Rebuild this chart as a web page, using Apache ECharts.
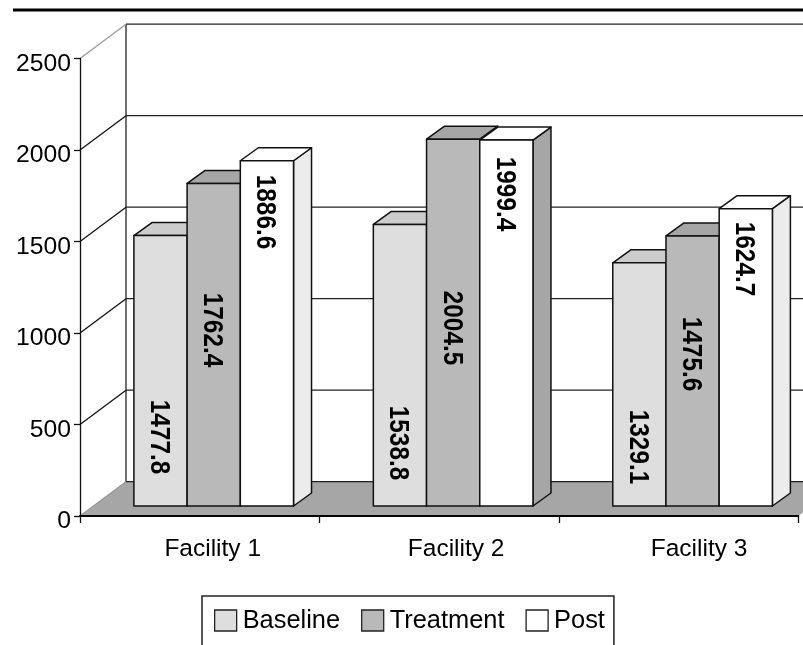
<!DOCTYPE html>
<html>
<head>
<meta charset="utf-8">
<style>html,body{margin:0;padding:0;background:#fff}#c{width:803px;height:645px}</style>
<script src="https://cdn.jsdelivr.net/npm/echarts@6/dist/echarts.min.js"></script>
</head>
<body>
<div id="c"></div>
<script>
const categories = ['Facility 1', 'Facility 2', 'Facility 3'];
const baseline = [1477.8, 1538.8, 1329.1];
const treatment = [1762.4, 2004.5, 1475.6];
const post = [1886.6, 1999.4, 1624.7];
const yTicks = [0, 500, 1000, 1500, 2000, 2500];

const layout = {
  wallDx: 46, wallDy: -34.3,
  barDx: 14, barDy: -10,
  depthDx: 18, depthDy: -13,
  // height of each rotated value label above the bar foot, per series then facility
  labelRise: [[69, 63, 59], [176, 178, 152], [294, 312, 247]],
  labelShift: -2
};
const ink = '#111';
const font = '"Liberation Sans", Arial, sans-serif';
const looks = [
  { face: '#dedede', top: '#cccccc', side: ['#cccccc', '#cccccc', '#cccccc'] },
  { face: '#b9b9b9', top: '#a6a6a6', side: ['#a6a6a6', '#a6a6a6', '#a6a6a6'] },
  { face: '#ffffff', top: '#ffffff', side: ['#ececec', '#a6a6a6', '#ececec'] }
];

function wallItem(params, api) {
  const cs = params.coordSys;
  const tick = api.value(1);
  const y = api.coord([0, tick])[1];
  const x0 = cs.x, x1 = cs.x + layout.wallDx, x2 = cs.x + cs.width + layout.wallDx;
  const yb = y + layout.wallDy;
  const children = [];
  if (tick === 0) {
    children.push({ type: 'polygon', shape: { points: [[x0, y], [x1, yb], [x2, yb], [x2 - layout.wallDx, y]] },
      style: { fill: '#a6a6a6', stroke: null } });
    const yTop = api.coord([0, yTicks[yTicks.length - 1]])[1] + layout.wallDy;
    children.push({ type: 'line', shape: { x1: x1, y1: yTop, x2: x1, y2: yb }, style: { stroke: '#222', lineWidth: 1.3 } });
  }
  const edge = tick === 0 || tick === yTicks[yTicks.length - 1];
  children.push({ type: 'line', shape: { x1: x0, y1: y, x2: x1, y2: yb }, style: { stroke: edge ? '#999' : ink, lineWidth: 1.3 } });
  children.push({ type: 'line', shape: { x1: x1, y1: yb, x2: x2, y2: yb }, style: { stroke: '#222', lineWidth: 1.3 } });
  return { type: 'group', children: children };
}

function barRenderer(seriesIndex) {
  return function (params, api) {
    const cat = api.value(0), val = api.value(1);
    const p = api.coord([cat, val]);
    const foot = api.coord([cat, 0]);
    const w = api.size([1, 0])[0] / 4.5;
    const l = p[0] - 1.5 * w + seriesIndex * w + layout.barDx;
    const r = l + w;
    const t = p[1] + layout.barDy, b = foot[1] + layout.barDy;
    const dx = layout.depthDx, dy = layout.depthDy;
    const look = looks[seriesIndex];
    const line = { stroke: ink, lineWidth: 1.5, lineJoin: 'round' };
    return {
      type: 'group',
      children: [
        { type: 'polygon', shape: { points: [[r, t], [r + dx, t + dy], [r + dx, b + dy], [r, b]] },
          style: Object.assign({ fill: look.side[cat] }, line) },
        { type: 'polygon', shape: { points: [[l, t], [l + dx, t + dy], [r + dx, t + dy], [r, t]] },
          style: Object.assign({ fill: look.top }, line) },
        { type: 'rect', shape: { x: l, y: t, width: w, height: b - t },
          style: Object.assign({ fill: look.face }, line) },
        { type: 'text', x: l + w / 2 + layout.labelShift, y: b - layout.labelRise[seriesIndex][cat],
          rotation: -Math.PI / 2, scaleY: 1.12,
          style: { text: val.toFixed(1), x: 0, y: 0, textAlign: 'center', textVerticalAlign: 'middle',
            fill: '#000', font: 'bold 24.3px ' + font } }
      ]
    };
  };
}

function barSeries(name, values, idx) {
  return {
    type: 'custom', name: name, z: 3, silent: true, clip: false,
    itemStyle: { color: looks[idx].face },
    renderItem: barRenderer(idx),
    encode: { x: 0, y: 1 },
    data: values.map((v, i) => [i, v])
  };
}

const chart = echarts.init(document.getElementById('c'), null, { renderer: 'canvas' });
chart.setOption({
  animation: false,
  backgroundColor: '#ffffff',
  textStyle: { fontFamily: font },
  grid: { left: 80, right: 4.7, top: 58.5, bottom: 129, containLabel: false },
  xAxis: {
    type: 'category', data: categories, z: 4,
    axisLine: { show: true, lineStyle: { color: '#000', width: 2 } },
    axisTick: { show: true, length: 7, lineStyle: { color: ink, width: 1.3 } },
    axisLabel: {
      margin: 21, color: '#000', fontSize: 24.3, fontFamily: font,
      formatter: (v, i) => '{f' + i + '|' + v + '}',
      rich: {
        f0: { fontSize: 24.5, fontFamily: font, color: '#000', padding: [0, 0, 0, 26] },
        f1: { fontSize: 24.5, fontFamily: font, color: '#000', padding: [0, 0, 0, 34] },
        f2: { fontSize: 24.5, fontFamily: font, color: '#000', padding: [0, 0, 0, 41] }
      }
    },
    splitLine: { show: false }
  },
  yAxis: {
    type: 'value', min: 0, max: 2500, interval: 500, z: 4,
    axisLine: { show: true, lineStyle: { color: ink, width: 1.3 } },
    axisTick: { show: true, length: 6, lineStyle: { color: ink, width: 1.3 } },
    axisLabel: { margin: 9, color: '#000', fontSize: 24.7, fontFamily: font,
      verticalAlign: 'top', lineHeight: 11, formatter: v => String(v) },
    splitLine: { show: false }
  },
  legend: {
    left: 202, top: 596, orient: 'horizontal',
    data: ['Baseline', 'Treatment', 'Post'],
    icon: 'rect', itemWidth: 22, itemHeight: 21, itemGap: 21,
    padding: [12, 9, 22, 12],
    borderColor: '#222', borderWidth: 1.5, backgroundColor: '#fff',
    itemStyle: { borderColor: '#222', borderWidth: 1.3 },
    textStyle: { fontSize: 25.4, color: '#000', fontFamily: font, padding: [0, 0, 0, 1] }
  },
  graphic: [{
    type: 'line', silent: true,
    shape: { x1: 13, y1: 10, x2: 803, y2: 10 },
    style: { stroke: '#000', lineWidth: 3 }
  }],
  series: [
    { type: 'custom', name: 'walls', z: 1, silent: true, clip: false, renderItem: wallItem,
      encode: { x: 0, y: 1 }, data: yTicks.map(t => [0, t]) },
    barSeries('Baseline', baseline, 0),
    barSeries('Treatment', treatment, 1),
    barSeries('Post', post, 2)
  ]
});
</script>
</body>
</html>
